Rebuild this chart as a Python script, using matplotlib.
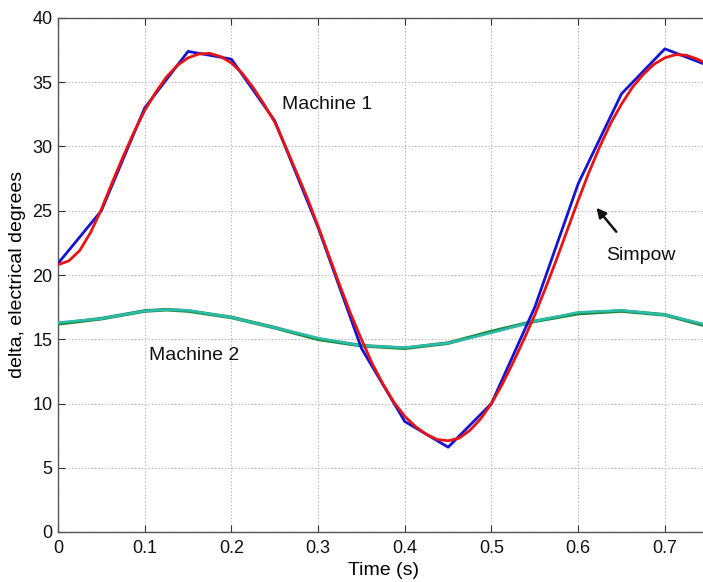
import matplotlib
matplotlib.use("Agg")
import matplotlib.pyplot as plt

# Machine 1 - Simpow (blue, sampled every 0.05 s)
t_blue = [0.00, 0.05, 0.10, 0.15, 0.20, 0.25, 0.30, 0.35, 0.40, 0.45, 0.50, 0.55, 0.60, 0.65, 0.70, 0.75]
d_blue = [20.9, 25.0, 33.0, 37.4, 36.8, 32.0, 23.7, 14.3, 8.6, 6.6, 10.0, 17.5, 27.1, 34.1, 37.6, 36.3]

# Machine 1 - reference (red, smooth), every 0.0125 s
t_red = [i * 0.0125 for i in range(61)]
d_red = [20.8, 21.1, 21.9, 23.3, 25.1, 27.2, 29.2, 31.1, 32.8, 34.2,
         35.4, 36.3, 36.9, 37.2, 37.25, 37.0, 36.5, 35.7, 34.6, 33.3,
         31.9, 30.0, 28.0, 26.0, 23.8, 21.5, 19.2, 17.0, 15.0, 13.1,
         11.5, 10.1, 9.0, 8.2, 7.6, 7.2, 7.1, 7.3, 7.9, 8.8,
         10.0, 11.5, 13.2, 15.0, 16.9, 19.0, 21.2, 23.5, 25.8, 28.0,
         30.0, 31.8, 33.3, 34.6, 35.6, 36.4, 36.9, 37.15, 37.1, 36.8,
         36.4]

# Machine 2 (green and cyan, nearly identical)
t_m2 = [0.00, 0.05, 0.10, 0.125, 0.15, 0.20, 0.25, 0.30, 0.35, 0.40, 0.45, 0.50, 0.55, 0.60, 0.65, 0.70, 0.75]
d_m2_green = [16.2, 16.6, 17.2, 17.3, 17.2, 16.7, 15.9, 15.0, 14.5, 14.3, 14.7, 15.6, 16.4, 17.0, 17.2, 16.9, 16.0]
d_m2_cyan = [16.3, 16.6, 17.2, 17.3, 17.25, 16.7, 15.9, 15.1, 14.5, 14.35, 14.7, 15.5, 16.4, 17.1, 17.25, 16.9, 16.1]

x_ticks = [0, 0.1, 0.2, 0.3, 0.4, 0.5, 0.6, 0.7]
x_tick_labels = ["0", "0.1", "0.2", "0.3", "0.4", "0.5", "0.6", "0.7"]
y_ticks = [0, 5, 10, 15, 20, 25, 30, 35, 40]
y_tick_labels = ["0", "5", "10", "15", "20", "25", "30", "35", "40"]

plt.rcParams['font.family'] = ['Liberation Sans', 'DejaVu Sans']

fig = plt.figure(figsize=(7.03, 5.82), dpi=100)
ax = fig.add_axes([58 / 703, 50 / 582, 1 - 58 / 703, 514 / 582])

ax.plot(t_m2, d_m2_green, color='#1f8a3c', lw=2.6, zorder=3)
ax.plot(t_m2, d_m2_cyan, color='#2cbcae', lw=1.8, zorder=4)
ax.plot(t_blue, d_blue, color='#1414d2', lw=2.0, zorder=5)
ax.plot(t_red, d_red, color='#e81414', lw=2.0, zorder=6)

ax.set_xlim(0, 0.744)
ax.set_ylim(0, 40)
ax.set_xticks(x_ticks)
ax.set_xticklabels(x_tick_labels)
ax.set_yticks(y_ticks)
ax.set_yticklabels(y_tick_labels)
ax.tick_params(direction='in', length=5, labelsize=13, colors='#333333', labelcolor='#111111',
               top=True, right=False)
ax.tick_params(axis='x', pad=6)
ax.tick_params(axis='y', pad=4)
ax.grid(True, linestyle=(0, (1, 2)), color='#aaaaaa', lw=0.8)
for side in ['left', 'bottom', 'top']:
    ax.spines[side].set_color('#555555')
    ax.spines[side].set_linewidth(1.0)
ax.spines['right'].set_visible(False)

ax.set_xlabel("Time (s)", fontsize=14)
ax.xaxis.set_label_coords(0.505, -0.058)
ax.set_ylabel("delta, electrical degrees", fontsize=14)
ax.yaxis.set_label_coords(-0.050, 0.502)

ax.text(0.311, 33.3, "Machine 1", fontsize=14, ha='center', va='center', color='#111111')
ax.text(0.157, 13.7, "Machine 2", fontsize=14, ha='center', va='center', color='#111111')
ax.text(0.672, 21.5, "Simpow", fontsize=14, ha='center', va='center', color='#111111')
ax.annotate("", xy=(0.619, 25.4), xytext=(0.646, 23.2),
            arrowprops=dict(arrowstyle='-|>', color='#111111', lw=1.8, mutation_scale=14))

fig.savefig("out.png", dpi=100)
